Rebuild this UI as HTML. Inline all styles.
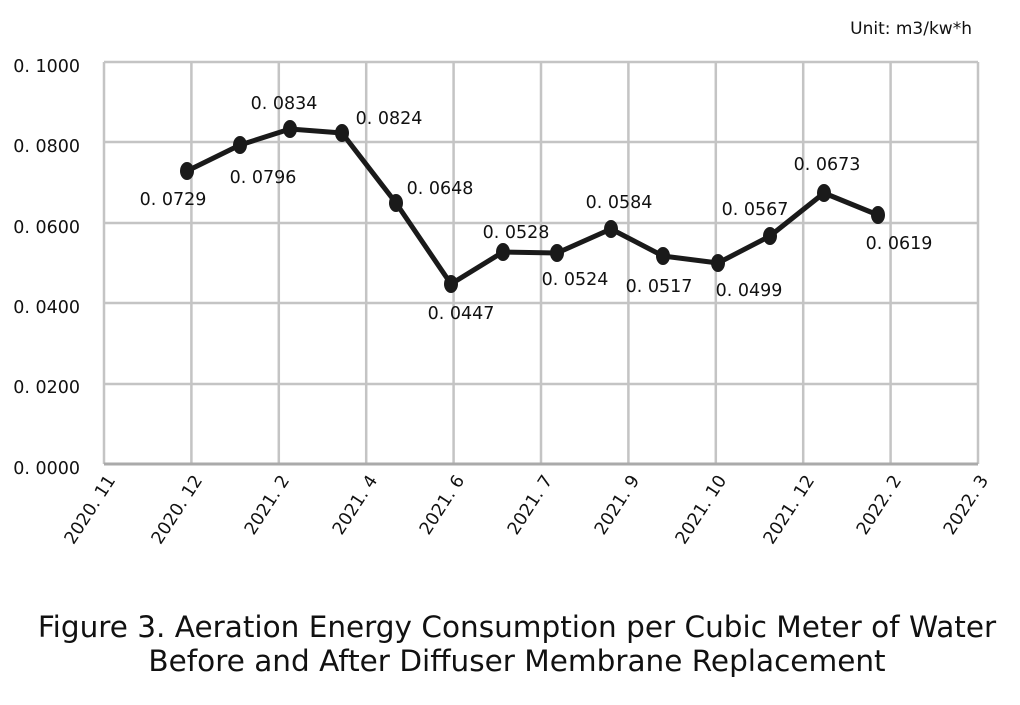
<!DOCTYPE html>
<html><head><meta charset="utf-8"><style>
body{margin:0;background:#fff;width:1020px;height:700px;overflow:hidden}
svg text{font-family:"DejaVu Sans","Liberation Sans",sans-serif;fill:#111}
</style></head><body>
<svg width="1020" height="700" viewBox="0 0 1020 700">
<g stroke="#c4c4c4" stroke-width="2.5" fill="none">
<line x1="104" y1="62" x2="978" y2="62"/><line x1="104" y1="142" x2="978" y2="142"/>
<line x1="104" y1="223" x2="978" y2="223"/><line x1="104" y1="303" x2="978" y2="303"/>
<line x1="104" y1="384" x2="978" y2="384"/>
<line x1="104" y1="62" x2="104" y2="464"/><line x1="191.4" y1="62" x2="191.4" y2="464"/>
<line x1="278.8" y1="62" x2="278.8" y2="464"/><line x1="366.2" y1="62" x2="366.2" y2="464"/>
<line x1="453.6" y1="62" x2="453.6" y2="464"/><line x1="541" y1="62" x2="541" y2="464"/>
<line x1="628.4" y1="62" x2="628.4" y2="464"/><line x1="715.8" y1="62" x2="715.8" y2="464"/>
<line x1="803.2" y1="62" x2="803.2" y2="464"/><line x1="890.6" y1="62" x2="890.6" y2="464"/>
<line x1="978" y1="62" x2="978" y2="464"/>
</g>
<line x1="104" y1="464" x2="978" y2="464" stroke="#aaa" stroke-width="3"/>
<g font-size="17.5" text-anchor="end">
<text x="80" y="72">0. 1000</text><text x="80" y="152">0. 0800</text>
<text x="80" y="233">0. 0600</text><text x="80" y="313">0. 0400</text>
<text x="80" y="393">0. 0200</text><text x="80" y="474">0. 0000</text>
</g>
<text x="972" y="34" font-size="17" text-anchor="end">Unit: m3/kw*h</text>
<polyline fill="none" stroke="#1a1a1a" stroke-width="5" stroke-linejoin="round" points="187,171 240,145 290,129 342,133 396,203 451,284 503,252 557,253 611,229 663,256 718,263 770,236 824,193 878,215"/>
<g fill="#1a1a1a">
<ellipse cx="187" cy="171" rx="7" ry="9"/><ellipse cx="240" cy="145" rx="7" ry="9"/>
<ellipse cx="290" cy="129" rx="7" ry="9"/><ellipse cx="342" cy="133" rx="7" ry="9"/>
<ellipse cx="396" cy="203" rx="7" ry="9"/><ellipse cx="451" cy="284" rx="7" ry="9"/>
<ellipse cx="503" cy="252" rx="7" ry="9"/><ellipse cx="557" cy="253" rx="7" ry="9"/>
<ellipse cx="611" cy="229" rx="7" ry="9"/><ellipse cx="663" cy="256" rx="7" ry="9"/>
<ellipse cx="718" cy="263" rx="7" ry="9"/><ellipse cx="770" cy="236" rx="7" ry="9"/>
<ellipse cx="824" cy="193" rx="7" ry="9"/><ellipse cx="878" cy="215" rx="7" ry="9"/>
</g>
<g font-size="17.5" text-anchor="middle">
<text x="173" y="205">0. 0729</text><text x="263" y="183">0. 0796</text>
<text x="284" y="109">0. 0834</text><text x="389" y="124">0. 0824</text>
<text x="440" y="194">0. 0648</text><text x="461" y="319">0. 0447</text>
<text x="516" y="238">0. 0528</text><text x="575" y="285">0. 0524</text>
<text x="619" y="208">0. 0584</text><text x="659" y="292">0. 0517</text>
<text x="749" y="296">0. 0499</text><text x="755" y="215">0. 0567</text>
<text x="827" y="170">0. 0673</text><text x="899" y="249">0. 0619</text>
</g>
<g font-size="17.5" text-anchor="end">
<text transform="translate(116,480) rotate(-57)">2020. 11</text>
<text transform="translate(203,480) rotate(-57)">2020. 12</text>
<text transform="translate(290,480) rotate(-57)">2021. 2</text>
<text transform="translate(378,480) rotate(-57)">2021. 4</text>
<text transform="translate(465,480) rotate(-57)">2021. 6</text>
<text transform="translate(553,480) rotate(-57)">2021. 7</text>
<text transform="translate(640,480) rotate(-57)">2021. 9</text>
<text transform="translate(727,480) rotate(-57)">2021. 10</text>
<text transform="translate(815,480) rotate(-57)">2021. 12</text>
<text transform="translate(902,480) rotate(-57)">2022. 2</text>
<text transform="translate(989,480) rotate(-57)">2022. 3</text>
</g>
<g font-size="29.5" text-anchor="middle">
<text x="517" y="637">Figure 3. Aeration Energy Consumption per Cubic Meter of Water</text>
<text x="517" y="671">Before and After Diffuser Membrane Replacement</text>
</g>
</svg>
</body></html>
